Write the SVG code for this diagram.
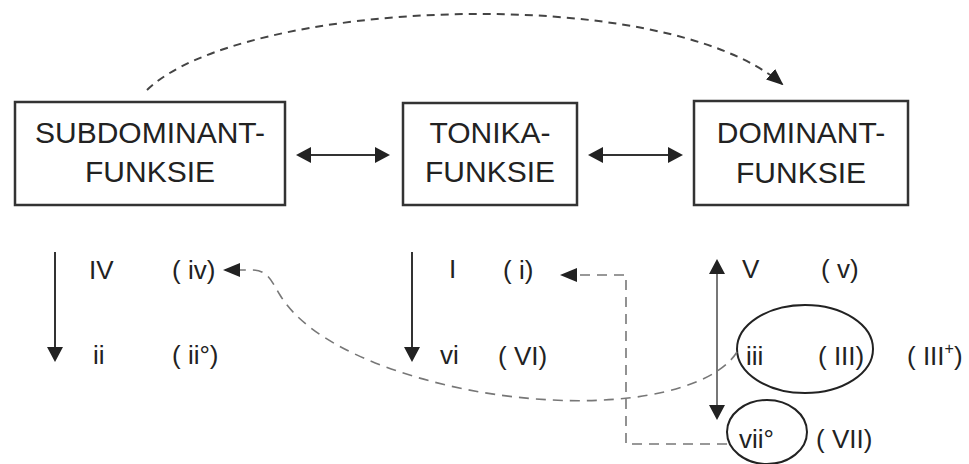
<svg xmlns="http://www.w3.org/2000/svg" width="969" height="464" viewBox="0 0 969 464">
<style>
text{font-family:"Liberation Sans",Arial,sans-serif;fill:#222}
.box{fill:none;stroke:#333;stroke-width:2.5}
.bt{font-size:30px;text-anchor:middle}
.ch{font-size:26px}
.solid{fill:none;stroke:#333;stroke-width:2}
.dash1{fill:none;stroke:#444;stroke-width:2;stroke-dasharray:8 6}
.dash2{fill:none;stroke:#777;stroke-width:1.6;stroke-dasharray:10 7}
.ell{fill:none;stroke:#222;stroke-width:2}
</style>
<defs>
<marker id="ah" viewBox="0 0 15 16" refX="12" refY="8" markerWidth="15" markerHeight="16" markerUnits="userSpaceOnUse" orient="auto-start-reverse"><path d="M0,0 L15,8 L0,16 Z" fill="#222"/></marker>
<marker id="dh" viewBox="0 0 17 14" refX="15" refY="7" markerWidth="17" markerHeight="14" markerUnits="userSpaceOnUse" orient="auto"><path d="M0,0 L17,7 L0,14 Z" fill="#222"/></marker>
</defs>
<rect width="969" height="464" fill="#fff"/>

<g id="subdominant">
<rect class="box" x="15" y="102" width="270" height="103"/>
<text class="bt" x="150" y="143">SUBDOMINANT-</text>
<text class="bt" x="150" y="182">FUNKSIE</text>
</g>
<g id="tonika">
<rect class="box" x="403" y="103" width="174" height="102"/>
<text class="bt" x="490" y="143">TONIKA-</text>
<text class="bt" x="490" y="182">FUNKSIE</text>
</g>
<g id="dominant">
<rect class="box" x="694" y="101" width="214" height="104"/>
<text class="bt" x="801" y="143">DOMINANT-</text>
<text class="bt" x="801" y="183">FUNKSIE</text>
</g>

<g id="sub-chords">
<text class="ch" x="89" y="279">IV</text>
<text class="ch" x="172" y="279">( iv)</text>
<text class="ch" x="93" y="364">ii</text>
<text class="ch" x="172" y="364">( ii°)</text>
</g>
<g id="ton-chords">
<text class="ch" x="449" y="278">I</text>
<text class="ch" x="503" y="279">( i)</text>
<text class="ch" x="440" y="364">vi</text>
<text class="ch" x="498" y="365">( VI)</text>
</g>
<g id="dom-chords">
<text class="ch" x="742" y="278">V</text>
<text class="ch" x="821" y="278">( v)</text>
<ellipse class="ell" cx="805" cy="349" rx="68" ry="44"/>
<text class="ch" x="746" y="365">iii</text>
<text class="ch" x="818" y="365">( III)</text>
<text class="ch" x="907" y="365">( III<tspan font-size="16" dy="-11">+</tspan><tspan dy="11">)</tspan></text>
<ellipse class="ell" cx="767" cy="432" rx="40" ry="32"/>
<text class="ch" x="739" y="448">vii°</text>
<text class="ch" x="816" y="448">( VII)</text>
</g>

<g id="connectors">
<line class="solid" x1="299" y1="155" x2="387" y2="155" stroke-width="2.5" marker-start="url(#ah)" marker-end="url(#ah)"/>
<line class="solid" x1="591" y1="155" x2="680" y2="155" stroke-width="2.5" marker-start="url(#ah)" marker-end="url(#ah)"/>
<line class="solid" x1="55" y1="252" x2="55" y2="359" stroke-width="1.6" marker-end="url(#ah)"/>
<line class="solid" x1="412" y1="252" x2="412" y2="359" stroke-width="1.6" marker-end="url(#ah)"/>
<line x1="717" y1="262" x2="717" y2="417" stroke="#777" stroke-width="2" marker-start="url(#ah)" marker-end="url(#ah)"/>
<path class="dash1" d="M147,90 C240,0 660,-20 782,84" marker-end="url(#dh)"/>
<path class="dash2" d="M727,444 L626,444 L626,275 L562,275" marker-end="url(#dh)"/>
<path class="dash2" d="M737,352 C712,392 610,414 480,392 C400,378 310,345 280,295 C272,282 268,270 252,270 L225,270" marker-end="url(#dh)"/>
</g>
</svg>
